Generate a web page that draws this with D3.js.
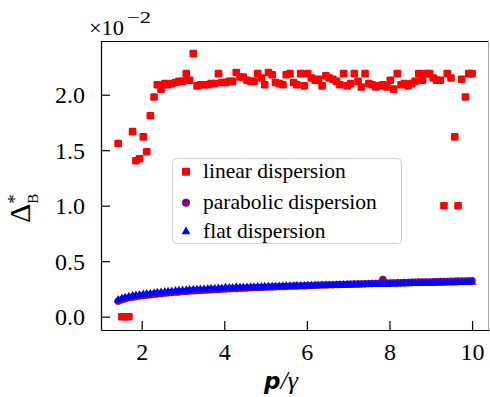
<!DOCTYPE html>
<html><head><meta charset="utf-8">
<script src="https://cdn.jsdelivr.net/npm/d3@7"></script>
<style>
html,body{margin:0;padding:0;background:#fff;}
svg{display:block;}
text{font-family:"Liberation Serif","Times New Roman",serif;fill:#000;}
</style></head>
<body>
<svg id="chart" width="490" height="397"></svg>
<script>
const pValues = [1.43,1.52,1.60,1.69,1.78,1.86,1.95,2.04,2.12,2.21,
2.30,2.38,2.47,2.56,2.64,2.73,2.82,2.90,2.99,3.08,
3.16,3.25,3.34,3.42,3.51,3.60,3.68,3.77,3.86,3.94,
4.03,4.12,4.20,4.29,4.38,4.46,4.55,4.64,4.72,4.81,
4.90,4.98,5.07,5.16,5.24,5.33,5.42,5.50,5.59,5.68,
5.76,5.85,5.94,6.02,6.11,6.20,6.28,6.37,6.46,6.54,
6.63,6.72,6.80,6.89,6.98,7.06,7.15,7.24,7.32,7.41,
7.50,7.58,7.67,7.76,7.84,7.93,8.02,8.10,8.19,8.28,
8.36,8.45,8.54,8.62,8.71,8.80,8.88,8.97,9.06,9.14,
9.23,9.32,9.40,9.49,9.58,9.66,9.75,9.84,9.92,10.00];

const linearVals = [1.56,0.00,0.00,0.00,1.667,1.405,1.423,1.62,1.486,1.81,
1.98,2.09,2.05,2.10,2.09,2.10,2.11,2.12,2.12,2.19,
2.13,2.37,2.08,2.09,2.09,2.09,2.10,2.10,2.19,2.11,
2.11,2.12,2.12,2.20,2.16,2.16,2.13,2.12,2.12,2.19,
2.15,2.09,2.20,2.18,2.11,2.10,2.09,2.18,2.19,2.11,
2.09,2.19,2.08,2.19,2.15,2.13,2.14,2.08,2.17,2.15,
2.14,2.12,2.09,2.19,2.08,2.10,2.19,2.12,2.07,2.19,
2.10,2.09,2.07,2.08,2.09,2.07,2.13,2.05,2.19,2.09,
2.10,2.08,2.10,2.12,2.19,2.13,2.19,2.19,2.15,2.13,
2.13,1.00,2.19,2.15,1.62,1.00,2.14,1.98,2.19,2.19];

const parabolicVals = [0.140,0.152,0.162,0.170,0.176,0.181,0.186,0.190,0.194,0.198,
0.202,0.205,0.209,0.212,0.215,0.218,0.221,0.223,0.226,0.228,
0.231,0.233,0.235,0.237,0.239,0.241,0.243,0.244,0.246,0.248,
0.250,0.251,0.253,0.254,0.256,0.257,0.259,0.260,0.262,0.263,
0.264,0.266,0.267,0.268,0.270,0.271,0.272,0.273,0.275,0.276,
0.277,0.278,0.279,0.281,0.282,0.283,0.284,0.285,0.286,0.287,
0.288,0.289,0.290,0.291,0.292,0.293,0.294,0.295,0.296,0.297,
0.298,0.299,0.300,0.301,0.335,0.303,0.304,0.305,0.306,0.307,
0.308,0.309,0.310,0.311,0.312,0.312,0.313,0.314,0.315,0.316,
0.317,0.318,0.318,0.319,0.320,0.321,0.322,0.322,0.323,0.325];

const flatVals = [0.150,0.163,0.172,0.180,0.186,0.191,0.196,0.200,0.204,0.208,
0.212,0.215,0.219,0.222,0.225,0.228,0.231,0.233,0.236,0.238,
0.240,0.242,0.244,0.246,0.248,0.249,0.251,0.252,0.254,0.255,
0.262,0.258,0.259,0.265,0.262,0.263,0.264,0.265,0.266,0.267,
0.268,0.269,0.270,0.271,0.271,0.272,0.273,0.274,0.275,0.275,
0.276,0.277,0.277,0.278,0.279,0.279,0.280,0.281,0.281,0.282,
0.282,0.283,0.284,0.285,0.285,0.286,0.287,0.288,0.288,0.289,
0.290,0.291,0.291,0.292,0.293,0.293,0.294,0.295,0.295,0.296,
0.297,0.297,0.298,0.299,0.299,0.300,0.301,0.301,0.302,0.303,
0.303,0.304,0.305,0.305,0.306,0.307,0.307,0.308,0.309,0.310];

const xTicks = [2,4,6,8,10];
const yTicks = [0.0,0.5,1.0,1.5,2.0];
const legendLabels = ["linear dispersion","parabolic dispersion","flat dispersion"];
const seriesColors = ["#ff0000","#800080","#0000ff"];

const svg = d3.select("#chart");
const L = 101, R = 489, T = 41, B = 330;
const x = d3.scaleLinear().domain([1.015, 10.41]).range([L, R]);
const y = d3.scaleLinear().domain([-0.12, 2.484]).range([B, T]);

// spines
svg.append("line").attr("x1",L).attr("x2",R).attr("y1",T+0.5).attr("y2",T+0.5).attr("stroke","#000").attr("stroke-width",1.2);
svg.append("line").attr("x1",R-0.5).attr("x2",R-0.5).attr("y1",T).attr("y2",B).attr("stroke","#aaa").attr("stroke-width",1);

// data
const rows = pValues.map((p,i)=>({p, lin:linearVals[i], par:parabolicVals[i], flat:flatVals[i]}));
const g = svg.append("g");
g.selectAll("rect.lin").data(rows).join("rect").attr("class","lin")
 .attr("x",d=>x(d.p)-3.8).attr("y",d=>y(d.lin)-3.8).attr("width",7.6).attr("height",7.6)
 .attr("rx",1.3).attr("fill",seriesColors[0]);
g.selectAll("circle.par").data(rows).join("circle").attr("class","par")
 .attr("cx",d=>x(d.p)).attr("cy",d=>y(d.par)).attr("r",3.7).attr("fill",seriesColors[1]);
const tri = d3.symbol().type(d3.symbolTriangle).size(32);
g.selectAll("path.flat").data(rows).join("path").attr("class","flat")
 .attr("transform",d=>`translate(${x(d.p)},${y(d.flat)})`).attr("d",tri).attr("fill",seriesColors[2]);

// axes
const xAxis = d3.axisBottom(x).tickValues(xTicks).tickSizeInner(-9).tickSizeOuter(0).tickPadding(16).tickFormat(d3.format("d"));
const yAxis = d3.axisLeft(y).tickValues(yTicks).tickSizeInner(-9).tickSizeOuter(0).tickPadding(16).tickFormat(d3.format(".1f"));
const gx = svg.append("g").attr("transform",`translate(0,${B})`).call(xAxis);
const gy = svg.append("g").attr("transform",`translate(${L},0)`).call(yAxis);
[gx,gy].forEach(a=>{
  a.select(".domain").attr("stroke","#000").attr("stroke-width",1.2);
  a.selectAll(".tick line").attr("stroke","#000").attr("stroke-width",1.2);
  a.selectAll(".tick text").attr("font-family","Liberation Serif, serif").attr("font-size",24).attr("fill","#000");
});
gx.selectAll(".tick text").attr("dy","0.71em").attr("y",13);
gy.selectAll(".tick text").attr("x",-16).attr("dy","0.34em");

// offset text
svg.append("text").attr("x",89).attr("y",35).attr("font-size",21)
  .attr("textLength",35).attr("lengthAdjust","spacingAndGlyphs").text("×10");
svg.append("text").attr("x",127).attr("y",23).attr("font-size",16)
  .attr("textLength",24).attr("lengthAdjust","spacingAndGlyphs").text("−2");

// y label
const yl = svg.append("text").attr("transform","translate(30,223) rotate(-90)").attr("font-size",30);
yl.append("tspan").text("Δ");
yl.append("tspan").attr("font-size",19).attr("dy",-9).text("*");
yl.append("tspan").attr("font-size",15).attr("dx",-9.5).attr("dy",17).text("B");

// x label
const xl = svg.append("text").attr("x",264).attr("y",389).attr("font-size",26);
xl.append("tspan").attr("font-family","DejaVu Sans, sans-serif").attr("font-style","italic").attr("font-weight","bold").attr("font-size",23).text("p");
xl.append("tspan").attr("font-style","italic").text("/γ");

// legend
const lg = svg.append("g");
lg.append("rect").attr("x",172.5).attr("y",158.5).attr("width",229).attr("height",85).attr("rx",4)
  .attr("fill","#fff").attr("fill-opacity",0.8).attr("stroke","#d0d0d0").attr("stroke-width",1);
const ly = [171.7,202.7,231.7];
legendLabels.forEach((lab,i)=>{
  const cx = 186, cy = ly[i];
  if(i===0) lg.append("rect").attr("x",cx-4).attr("y",cy-4).attr("width",8).attr("height",8).attr("rx",1.3).attr("fill",seriesColors[0]);
  if(i===1) lg.append("circle").attr("cx",cx).attr("cy",cy).attr("r",4).attr("fill",seriesColors[1]);
  if(i===2) lg.append("path").attr("transform",`translate(${cx},${cy})`).attr("d",d3.symbol().type(d3.symbolTriangle).size(34)).attr("fill",seriesColors[2]);
  lg.append("text").attr("x",203).attr("y",cy+6.5).attr("font-size",21.5).text(lab);
});
</script>
</body></html>
